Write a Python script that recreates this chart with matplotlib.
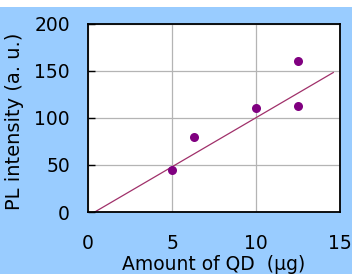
import matplotlib.pyplot as plt
from matplotlib.patches import Rectangle

# measured points
qd_amount = [5.0, 6.3, 10.0, 12.5, 12.5]
pl_intensity = [45, 80, 110, 160, 112]

# fitted line end points
fit_x = [0.4, 14.6]
fit_y = [0, 148]

x_ticks = [0, 5, 10, 15]
y_ticks = [0, 50, 100, 150, 200]

fig = plt.figure(figsize=(3.52, 2.74), dpi=100)
fig.patch.set_facecolor('white')
# light blue panel, white strip at the top
fig.patches.append(Rectangle((0, 0), 1, 1 - 7 / 274, transform=fig.transFigure,
                             facecolor='#99ccff', edgecolor='none', zorder=-5))

ax = fig.add_axes([88 / 352, 62 / 274, 252 / 352, 188.5 / 274])
ax.set_facecolor('white')

ax.plot(fit_x, fit_y, color='#a0306a', lw=0.9, zorder=2)
ax.plot(qd_amount, pl_intensity, 'o', color='#800080', ms=6.5, mec='none', zorder=3)

ax.set_xlim(0, 15)
ax.set_ylim(0, 200)
ax.set_xticks(x_ticks)
ax.set_yticks(y_ticks)
ax.grid(True, color='#b4b4b4', lw=0.9)
ax.set_axisbelow(True)

ax.tick_params(axis='y', direction='in', length=5, width=1, pad=13, labelsize=13.5)
ax.tick_params(axis='x', direction='in', length=0, pad=16, labelsize=13.5)
for s in ax.spines.values():
    s.set_linewidth(1.3)

ax.set_xlabel('Amount of QD  (\u03bcg)', fontsize=13.5, va='center')
ax.xaxis.set_label_coords(0.5, -53 / 188.5)
ax.set_ylabel('PL intensity (a. u.)', fontsize=14, va='center')
ax.yaxis.set_label_coords(-73 / 252, 0.48)

fig.savefig('out.png', dpi=100, facecolor=fig.get_facecolor())
